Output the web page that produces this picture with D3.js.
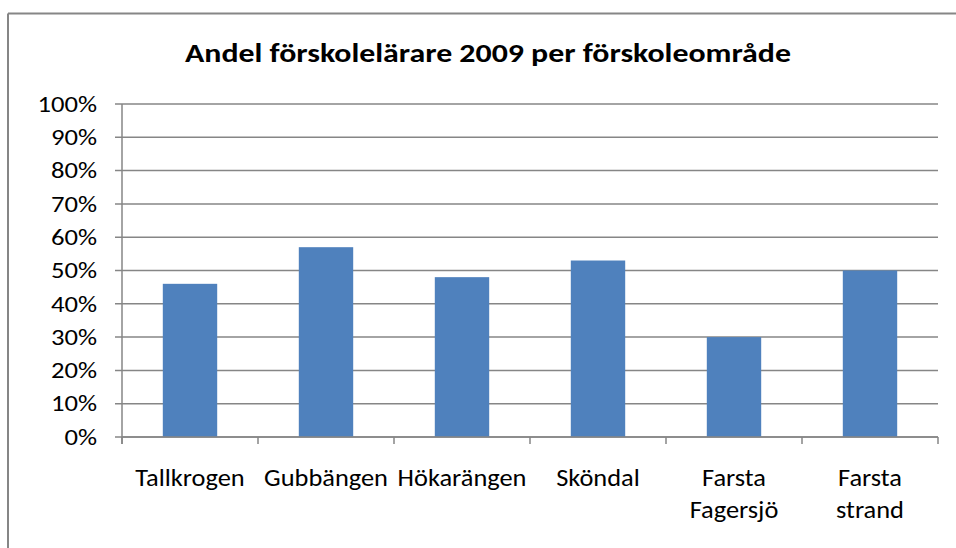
<!DOCTYPE html>
<html><head><meta charset="utf-8">
<script src="https://cdn.jsdelivr.net/npm/d3@7"></script>
<style>
html,body{margin:0;padding:0;background:#fff;}
svg{display:block;}
text{font-family:Carlito, Calibri, Lato, sans-serif;fill:#000;}
</style></head>
<body>
<svg id="c" width="956" height="548"></svg>
<script>
const title = "Andel förskolelärare 2009 per förskoleområde";
const categories = ["Tallkrogen", "Gubbängen", "Hökarängen", "Sköndal", "Farsta\nFagersjö", "Farsta\nstrand"];
const values = [0.46, 0.57, 0.48, 0.53, 0.30, 0.50];
const yTicks = [0, 0.1, 0.2, 0.3, 0.4, 0.5, 0.6, 0.7, 0.8, 0.9, 1.0];

const svg = d3.select("#c");
const W = 956, H = 548;
const plot = {left: 122, right: 938, top: 104, bottom: 437};
const grey = "#868686";

// outer frame (top and left visible)
svg.append("line").attr("x1", 8).attr("x2", W).attr("y1", 13.5).attr("y2", 13.5).attr("stroke", grey).attr("stroke-width", 2);
svg.append("line").attr("x1", 8).attr("x2", 8).attr("y1", 13.5).attr("y2", H).attr("stroke", grey).attr("stroke-width", 2);

// title, stretched horizontally to match the reference width
svg.append("g").attr("transform", "translate(488,62) scale(1.18,1)")
  .append("text").attr("x", 0).attr("y", 0).attr("text-anchor", "middle")
  .style("font-size", "27px").style("font-weight", "bold").text(title);

const x = d3.scaleBand().domain(categories).range([plot.left, plot.right]).paddingInner(0.6).paddingOuter(0.3);
const y = d3.scaleLinear().domain([0, 1]).range([plot.bottom, plot.top]);

// gridlines
svg.append("g").selectAll("line").data(yTicks).join("line")
  .attr("x1", plot.left - 7).attr("x2", plot.right)
  .attr("y1", d => y(d)).attr("y2", d => y(d))
  .attr("stroke", grey).attr("stroke-width", 1.5);

// y axis line
svg.append("line").attr("x1", plot.left).attr("x2", plot.left).attr("y1", plot.top).attr("y2", plot.bottom + 7)
  .attr("stroke", grey).attr("stroke-width", 1.5);

// y labels
svg.append("g").selectAll("g").data(yTicks).join("g")
  .attr("transform", d => `translate(97,${y(d)}) scale(1.24,1)`)
  .append("text").attr("x", 0).attr("y", 0).attr("dy", "0.36em").attr("text-anchor", "end")
  .style("font-size", "21.5px").text(d => d3.format(".0%")(d));

// bars
svg.append("g").selectAll("rect").data(values).join("rect")
  .attr("x", (d, i) => x(categories[i])).attr("width", x.bandwidth())
  .attr("y", d => y(d)).attr("height", d => y(0) - y(d))
  .attr("fill", "#4F81BD");

// x axis baseline and ticks
svg.append("line").attr("x1", plot.left).attr("x2", plot.right).attr("y1", plot.bottom).attr("y2", plot.bottom)
  .attr("stroke", grey).attr("stroke-width", 1.5);
const bounds = d3.range(categories.length + 1).map(i => plot.left + i * (plot.right - plot.left) / categories.length);
svg.append("g").selectAll("line").data(bounds).join("line")
  .attr("x1", d => d).attr("x2", d => d).attr("y1", plot.bottom).attr("y2", plot.bottom + 7)
  .attr("stroke", grey).attr("stroke-width", 1.5);

// category labels
const lab = svg.append("g").selectAll("text").data(categories).join("text")
  .attr("text-anchor", "middle").style("font-size", "24px")
  .attr("transform", d => `translate(${x(d) + x.bandwidth() / 2},0) scale(1.1,1)`);
lab.each(function(d) {
  const lines = d.split("\n");
  d3.select(this).selectAll("tspan").data(lines).join("tspan")
    .attr("x", 0).attr("y", (l, i) => 486.5 + i * 31.8).text(l => l);
});
</script>
</body></html>
